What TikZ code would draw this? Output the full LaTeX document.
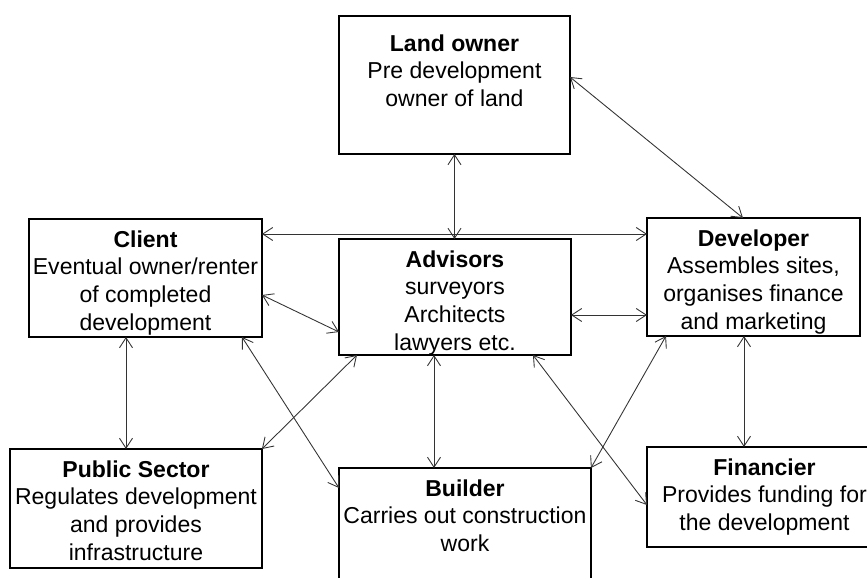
\documentclass[tikz,border=0pt]{standalone}
\usepackage{fontspec}
\setmainfont{Liberation Sans}
\usetikzlibrary{positioning,calc,arrows.meta}
\tikzset{
    box/.style={draw, line width=0.7pt, anchor=north west, inner sep=0pt, outer sep=0pt},
    boxtext/.style={align=center, inner sep=0pt, font=\fontsize{13.1}{15.9}\selectfont},
    link/.style={<->, >={Straight Barb[length=2mm,width=2.6mm]}, line width=0.5pt, black!80}
}
\begin{document}
\begin{tikzpicture}[x=0.02cm,y=-0.02cm]
    \useasboundingbox (0,0) rectangle (867,578);
    \clip (0,0) rectangle (867,578);
    \node[box, minimum width=4.62cm, minimum height=2.76cm] (landowner) at (339,16) {};
    \node[box, minimum width=4.66cm, minimum height=2.36cm] (client) at (29,219) {};
    \node[box, minimum width=4.64cm, minimum height=2.32cm] (advisors) at (339,239) {};
    \node[box, minimum width=4.26cm, minimum height=2.36cm] (developer) at (647,218) {};
    \node[box, minimum width=5.04cm, minimum height=2.38cm] (publicsector) at (10,449) {};
    \node[box, minimum width=5.04cm, minimum height=2.80cm] (builder) at (339,468) {};
    \node[box, minimum width=4.70cm, minimum height=2.00cm] (financier) at (647,447) {};

    \node[boxtext, below=0.36cm of landowner.north] (landownertext) {\textbf{Land owner}\\Pre development\\owner of land};
    \node[boxtext, below=0.22cm of client.north] (clienttext) {\textbf{Client}\\Eventual owner/renter\\of completed\\development};
    \node[boxtext, below=0.22cm of advisors.north] (advisorstext) {\textbf{Advisors}\\surveyors\\Architects\\lawyers etc.};
    \node[boxtext, below=0.22cm of developer.north] (developertext) {\textbf{Developer}\\Assembles sites,\\organises finance\\and marketing};
    \node[boxtext, below=0.22cm of publicsector.north] (publicsectortext) {\textbf{Public Sector}\\Regulates development\\and provides\\infrastructure};
    \node[boxtext, below=0.22cm of builder.north] (buildertext) {\textbf{Builder}\\Carries out construction\\work};
    \node[boxtext, below=0.22cm of financier.north] (financiertext) {\textbf{Financier}\\Provides funding for\\the development};

    \draw[link] (landowner.south) -- (landowner.south |- advisors.north);
    \draw[link] ($(landowner.north east)+(0,61)$) -- ($(developer.north west)+(96,0)$);
    \draw[link] ($(client.north east)+(0,15)$) -- ($(developer.north west)+(0,16)$);
    \draw[link] ($(client.north east)+(0,76)$) -- ($(advisors.north west)+(0,93)$);
    \draw[link] ($(advisors.north east)+(0,76)$) -- ($(developer.north west)+(0,97)$);
    \draw[link] ($(client.south west)+(97,0)$) -- ($(publicsector.north west)+(116,0)$);
    \draw[link] ($(client.south east)+(-20,0)$) -- ($(builder.north west)+(0,20)$);
    \draw[link] ($(advisors.south west)+(18,0)$) -- (publicsector.north east);
    \draw[link] ($(advisors.south west)+(95,0)$) -- ($(builder.north west)+(95,0)$);
    \draw[link] ($(advisors.south east)+(-38,0)$) -- ($(financier.north west)+(0,58)$);
    \draw[link] ($(developer.south west)+(19,0)$) -- (builder.north east);
    \draw[link] ($(developer.south west)+(97,0)$) -- ($(financier.north west)+(97,0)$);
\end{tikzpicture}
\end{document}
